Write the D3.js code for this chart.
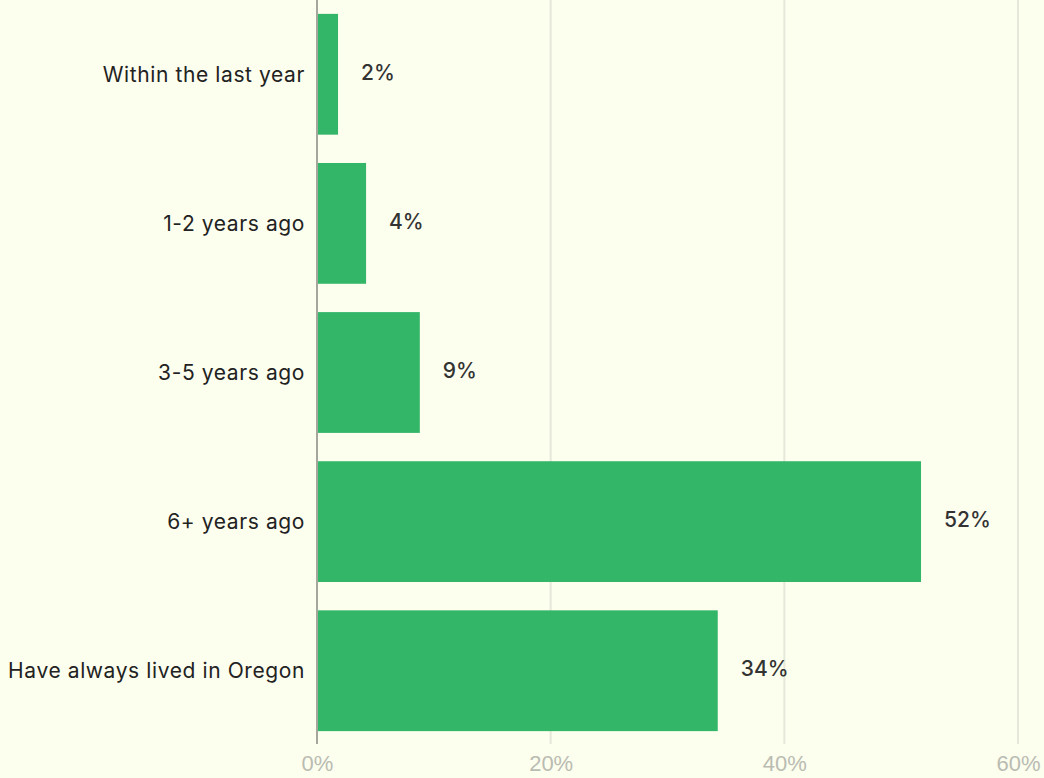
<!DOCTYPE html>
<html>
<head>
<meta charset="utf-8">
<script src="https://cdn.jsdelivr.net/npm/d3@7"></script>
<style>
  html, body { margin: 0; padding: 0; background: #fcfeee; }
  svg { display: block; }
</style>
</head>
<body>
<svg id="chart" width="1044" height="778"></svg>
<script>
// Survey answers: when respondents moved to Oregon (percent of respondents)
const categories = ["Within the last year", "1-2 years ago", "3-5 years ago", "6+ years ago", "Have always lived in Oregon"];
const values = [1.8, 4.2, 8.8, 51.7, 34.3];
const tickValues = [0, 20, 40, 60];

const W = 1044, H = 778;
const margin = { left: 317, right: 26, top: 0, bottom: 34 };

const svg = d3.select("#chart");

const x = d3.scaleLinear().domain([0, 60]).range([margin.left, W - margin.right]);
const y = d3.scaleBand().domain(categories).range([-7, 752]).paddingInner(0.19).paddingOuter(0.14);

// Vertical gridlines
svg.append("g").selectAll("line")
  .data(tickValues.filter(t => t > 0))
  .join("line")
  .attr("x1", d => x(d)).attr("x2", d => x(d))
  .attr("y1", 0).attr("y2", 744)
  .attr("stroke", "#e6e8da").attr("stroke-width", 2);

// Bars
svg.append("g").selectAll("rect")
  .data(categories.map((c, i) => ({ c, v: values[i] })))
  .join("rect")
  .attr("x", x(0) + 1)
  .attr("y", d => y(d.c))
  .attr("width", d => x(d.v) - x(0) - 1)
  .attr("height", y.bandwidth())
  .attr("fill", "#33b668");

// Baseline axis
svg.append("line")
  .attr("x1", x(0)).attr("x2", x(0))
  .attr("y1", 0).attr("y2", 744)
  .attr("stroke", "#a5a69c").attr("stroke-width", 2);

// Category labels
svg.append("g").selectAll("text")
  .data(categories)
  .join("text")
  .attr("x", 305)
  .attr("y", d => y(d) + y.bandwidth() / 2)
  .attr("dy", "0.35em")
  .attr("text-anchor", "end")
  .attr("font-family", "Inter, 'Noto Sans', sans-serif")
  .attr("font-size", 21)
  .attr("letter-spacing", "0.6px")
  .attr("fill", "#222")
  .text(d => d);

// Value labels
svg.append("g").selectAll("text")
  .data(categories.map((c, i) => ({ c, v: values[i] })))
  .join("text")
  .attr("x", d => x(d.v) + 23)
  .attr("y", d => y(d.c) + y.bandwidth() / 2 - 2)
  .attr("dy", "0.35em")
  .attr("font-family", "Inter, 'Noto Sans', sans-serif")
  .attr("font-size", 21)
  .attr("font-weight", 500)
  .attr("fill", "#333")
  .text(d => Math.round(d.v) + "%");

// X axis tick labels
const xAxis = d3.axisBottom(x).tickValues(tickValues).tickSize(0).tickFormat(d => d + "%");
const gx = svg.append("g").attr("transform", `translate(0, ${H - 26})`).call(xAxis);
gx.select(".domain").remove();
gx.selectAll("text")
  .attr("font-family", "'Liberation Sans Narrow', 'Arial Narrow', 'Liberation Sans', sans-serif")
  .attr("font-size", 22)
  .attr("fill", "#babcb2");
</script>
</body>
</html>
